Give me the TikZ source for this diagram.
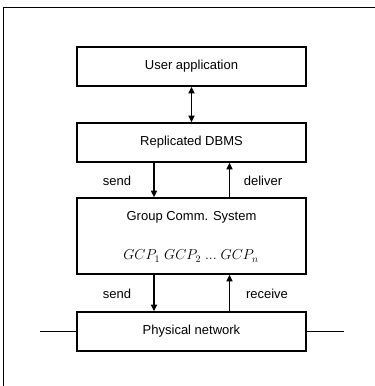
\documentclass[tikz,border=0pt]{standalone}
\usepackage{fontspec}
\setmainfont{Liberation Sans}
\usetikzlibrary{arrows.meta}
\begin{document}
\begin{tikzpicture}[x=1pt,y=-1pt,
  layerbox/.style={draw, line width=1.7pt, minimum width=229pt, inner sep=0pt, font=\fontsize{13}{15}\selectfont},
  lbl/.style={font=\fontsize{13}{15}\selectfont},
  flow/.style={line width=2pt, -{Triangle[length=6.5pt,width=6pt]}},
  flowthin/.style={line width=1.5pt, -{Triangle[length=6.5pt,width=6pt]}},
  frameline/.style={line width=1.7pt}]
\useasboundingbox (0,0) rectangle (375,386);
\coordinate (fbl) at (3.5,386);
\coordinate (ftl) at (3.5,7.5);
\coordinate (ftr) at (375,7.5);
\draw[frameline] (fbl) -- (ftl) -- (ftr);
\node[layerbox, minimum height=39pt] (ua) at (191.5,66.5) {User application};
\node[layerbox, minimum height=39pt] (db) at (191.5,142.5) {Replicated DBMS};
\node[layerbox, minimum height=76pt] (gcs) at (191.5,236) {};
\node[lbl] (gcst) at (191.5,217) {Group Comm. System};
\node[font=\fontsize{14.8}{17}\selectfont] (gcp) at (191,256) {$GCP_1\;GCP_2\;...\;GCP_n$};
\node[layerbox, minimum height=39pt] (pn) at (191.5,331.5) {Physical network};
\draw[line width=1.8pt, {Triangle[length=6.5pt,width=6pt]}-{Triangle[length=6.5pt,width=6pt]}] (ua.south) -- (db.north);
\draw[flow] ([xshift=-37.5pt]db.south) -- ([xshift=-37.5pt]gcs.north);
\draw[flowthin] ([xshift=38pt]gcs.north) -- ([xshift=38pt]db.south);
\draw[flow] ([xshift=-37.5pt]gcs.south) -- ([xshift=-37.5pt]pn.north);
\draw[flowthin] ([xshift=38pt]pn.north) -- ([xshift=38pt]gcs.south);
\node[lbl] (l1) at (117,181) {send};
\node[lbl] (l2) at (263,181) {deliver};
\node[lbl] (l3) at (117,294) {send};
\node[lbl] (l4) at (267,294) {receive};
\coordinate (nl) at (40,331.5);
\coordinate (nr) at (344,331.5);
\draw[line width=1.5pt] (nl) -- (pn.west);
\draw[line width=1.5pt] (pn.east) -- (nr);
\end{tikzpicture}
\end{document}
